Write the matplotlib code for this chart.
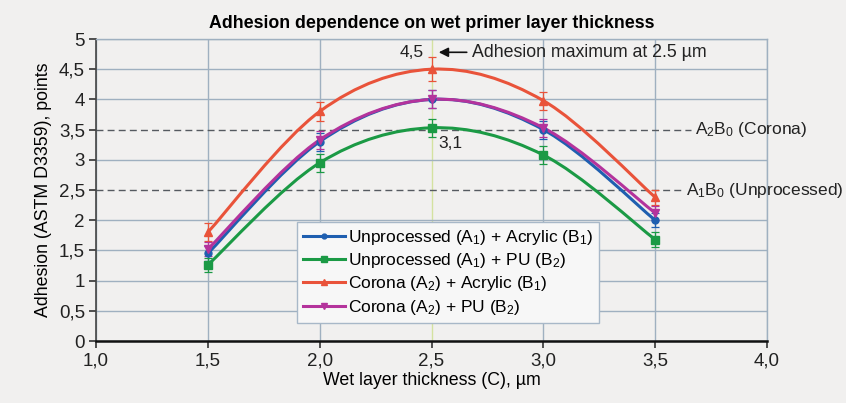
import matplotlib
matplotlib.use("Agg")
import matplotlib.pyplot as plt
import numpy as np
from matplotlib.lines import Line2D
from matplotlib.patches import PathPatch
from matplotlib.path import Path

plt.rcParams["font.family"] = ["Liberation Sans", "DejaVu Sans"]
plt.rcParams["mathtext.fontset"] = "custom"
plt.rcParams["mathtext.rm"] = "Liberation Sans"
plt.rcParams["mathtext.default"] = "regular"

thickness = [1.5, 2.0, 2.5, 3.0, 3.5]
unproc_acrylic = [1.45, 3.30, 4.00, 3.50, 2.00]
unproc_pu = [1.26, 2.95, 3.53, 3.08, 1.68]
corona_acrylic = [1.80, 3.80, 4.50, 3.98, 2.38]
corona_pu = [1.52, 3.33, 4.00, 3.53, 2.12]
err_unproc_acrylic = [0.12, 0.15, 0.15, 0.15, 0.12]
err_unproc_pu = [0.12, 0.15, 0.15, 0.15, 0.12]
err_corona_acrylic = [0.15, 0.15, 0.20, 0.15, 0.12]
err_corona_pu = [0.12, 0.15, 0.15, 0.15, 0.12]

labels = [
    "Unprocessed (A$_1$) + Acrylic (B$_1$)",
    "Unprocessed (A$_1$) + PU (B$_2$)",
    "Corona (A$_2$) + Acrylic (B$_1$)",
    "Corona (A$_2$) + PU (B$_2$)",
]
x_ticks = [1.0, 1.5, 2.0, 2.5, 3.0, 3.5, 4.0]
x_tick_labels = ["1,0", "1,5", "2,0", "2,5", "3,0", "3,5", "4,0"]
y_ticks = [0, 0.5, 1, 1.5, 2, 2.5, 3, 3.5, 4, 4.5, 5]
y_tick_labels = ["0", "0,5", "1", "1,5", "2", "2,5", "3", "3,5", "4", "4,5", "5"]

ref_levels = [3.5, 2.5]
ref_ends = [3.66, 3.62]
ref_labels = ["A$_2$B$_0$ (Corona)", "A$_1$B$_0$ (Unprocessed)"]

series = [
    (unproc_acrylic, err_unproc_acrylic, "#1f5fb0", "o", 5),
    (unproc_pu, err_unproc_pu, "#1b9a45", "s", 6),
    (corona_acrylic, err_corona_acrylic, "#e9533a", "^", 6),
    (corona_pu, err_corona_pu, "#b4339c", "v", 6),
]


def smooth_path(xs, ys):
    """Catmull-Rom style Bezier through the points (like Excel smoothing)."""
    pts = np.column_stack([xs, ys]).astype(float)
    n = len(pts)
    verts = [pts[0]]
    codes = [Path.MOVETO]
    for i in range(n - 1):
        p0 = pts[i - 1] if i > 0 else pts[i]
        p1, p2 = pts[i], pts[i + 1]
        p3 = pts[i + 2] if i + 2 < n else pts[i + 1]
        verts += [p1 + (p2 - p0) / 6, p2 - (p3 - p1) / 6, p2]
        codes += [Path.CURVE4] * 3
    return Path(verts, codes)


bg = "#f1f0ef"
grid_c = "#9fb0c0"
fig = plt.figure(figsize=(8.46, 4.03), dpi=100, facecolor=bg)
ax = fig.add_axes([0.1135, 0.1538, 0.7931, 0.7494])
ax.set_facecolor(bg)

ax.set_xlim(1.0, 4.0)
ax.set_ylim(0, 5)
ax.set_xticks(x_ticks)
ax.set_xticklabels(x_tick_labels)
ax.set_yticks(y_ticks)
ax.set_yticklabels(y_tick_labels)
ax.tick_params(labelsize=13.5, length=5, width=1.2, color="#333333", pad=3,
               labelcolor="#222222")

ax.grid(True, color=grid_c, linewidth=1.0)
ax.set_axisbelow(True)
for level in ref_levels:
    ax.yaxis.get_gridlines()[y_ticks.index(level)].set_visible(False)
ax.xaxis.get_gridlines()[x_ticks.index(2.5)].set_color("#d4e2a0")

for side in ("top", "right"):
    ax.spines[side].set_color(grid_c)
    ax.spines[side].set_linewidth(1.0)
ax.spines["left"].set_color("#444444")
ax.spines["left"].set_linewidth(1.2)
ax.spines["bottom"].set_color("#111111")
ax.spines["bottom"].set_linewidth(1.8)

for level, end, text in zip(ref_levels, ref_ends, ref_labels):
    ax.hlines(level, 1.0, end, colors="#555a60", linestyles=(0, (5, 3)), linewidth=1.0)
    ax.text(end + 0.02, level, text, fontsize=12.5, va="center", ha="left",
            color="#222222", clip_on=False)

handles = []
for (ys, errs, color, marker, ms), label in zip(series, labels):
    ax.add_patch(PathPatch(smooth_path(thickness, ys), fill=False, edgecolor=color,
                           linewidth=2.2, zorder=3))
    ax.errorbar(thickness, ys, yerr=errs, fmt=marker, color=color, ms=ms,
                ecolor=color, elinewidth=0.9, capsize=3, capthick=0.9, zorder=4)
    handles.append(Line2D([], [], color=color, marker=marker, ms=ms - 1.5,
                          linewidth=2.2, label=label))

ax.annotate("", xy=(2.52, 4.78), xytext=(2.67, 4.78),
            arrowprops=dict(arrowstyle="-|>", color="#111111", lw=1.2,
                            mutation_scale=14))
ax.text(2.68, 4.78, "Adhesion maximum at 2.5 µm", fontsize=12.8, va="center",
        ha="left", color="#222222")
ax.text(2.465, 4.78, "4,5", fontsize=12.5, va="center", ha="right", color="#222222")
ax.text(2.53, 3.27, "3,1", fontsize=12.5, va="center", ha="left", color="#222222")

leg = ax.legend(handles=handles, loc="lower left", bbox_to_anchor=(0.3, 0.06),
                fontsize=12.5, handlelength=2.4, handletextpad=0.15,
                labelspacing=0.25, borderpad=0.35, fancybox=False,
                framealpha=1, edgecolor="#a8b8c8", borderaxespad=0)
leg.get_frame().set_facecolor("#f7f7f7")

ax.set_title("Adhesion dependence on wet primer layer thickness",
             fontsize=12.8, fontweight="bold", pad=8)
ax.set_xlabel("Wet layer thickness (C), µm", fontsize=12.8, labelpad=2)
ax.set_ylabel("Adhesion (ASTM D3359), points", fontsize=12.8, labelpad=5)

fig.savefig("out.png", dpi=100, facecolor=bg)
